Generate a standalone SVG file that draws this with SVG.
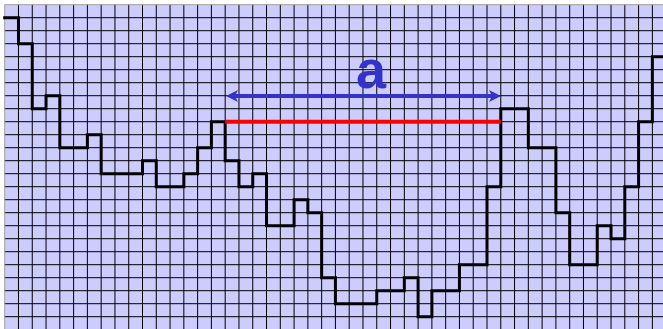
<svg xmlns="http://www.w3.org/2000/svg" width="663" height="329" viewBox="0 0 663 329">
<style>
.bg{fill:#ccccff}
.grid{stroke:#000;stroke-width:1;fill:none}
.border{stroke:#a0a0a0;stroke-width:1;fill:none}
.curve{stroke:#000;stroke-width:3;fill:none;stroke-linejoin:miter;stroke-linecap:square}
.red{stroke:#ff0000;stroke-width:4}
.blue{stroke:#3333cc;stroke-width:4}
.head{fill:#3333cc}
.lbl{font-family:"Liberation Sans",Arial,sans-serif;font-weight:bold;font-size:54px;fill:#3333cc}
</style>
<rect x="0" y="0" width="663" height="329" fill="#ffffff"/>
<rect class="bg" x="4.7" y="4.7" width="660" height="330"/>
<g id="grid">
<path class="grid" d="M18.48 4.7V329M32.26 4.7V329M46.04 4.7V329M59.82 4.7V329M73.6 4.7V329M87.38 4.7V329M101.16 4.7V329M114.94 4.7V329M128.72 4.7V329M142.5 4.7V329M156.28 4.7V329M170.06 4.7V329M183.84 4.7V329M197.62 4.7V329M211.4 4.7V329M225.18 4.7V329M238.96 4.7V329M252.74 4.7V329M266.52 4.7V329M280.3 4.7V329M294.08 4.7V329M307.86 4.7V329M321.64 4.7V329M335.42 4.7V329M349.2 4.7V329M362.98 4.7V329M376.76 4.7V329M390.54 4.7V329M404.32 4.7V329M418.1 4.7V329M431.88 4.7V329M445.66 4.7V329M459.44 4.7V329M473.22 4.7V329M487 4.7V329M500.78 4.7V329M514.56 4.7V329M528.34 4.7V329M542.12 4.7V329M555.9 4.7V329M569.68 4.7V329M583.46 4.7V329M597.24 4.7V329M611.02 4.7V329M624.8 4.7V329M638.58 4.7V329M652.36 4.7V329"/>
<path class="grid" d="M4.7 17.7H663M4.7 30.7H663M4.7 43.7H663M4.7 56.7H663M4.7 69.7H663M4.7 82.7H663M4.7 95.7H663M4.7 108.7H663M4.7 121.7H663M4.7 134.7H663M4.7 147.7H663M4.7 160.7H663M4.7 173.7H663M4.7 186.7H663M4.7 199.7H663M4.7 212.7H663M4.7 225.7H663M4.7 238.7H663M4.7 251.7H663M4.7 264.7H663M4.7 277.7H663M4.7 290.7H663M4.7 303.7H663M4.7 316.7H663"/>
<path class="border" d="M4.7 329V4.7H663"/>
</g>
<g id="staircase">
<path class="curve" d="M4.7 17.7H18.48V43.7H32.26V108.7H46.04V95.7H59.82V147.7H87.38V134.7H101.16V173.7H142.5V160.7H156.28V186.7H183.84V173.7H197.62V147.7H211.4V121.7H225.18V160.7H238.96V186.7H252.74V173.7H266.52V225.7H294.08V199.7H307.86V212.7H321.64V277.7H335.42V303.7H376.76V290.7H404.32V277.7H418.1V316.7H431.88V290.7H459.44V264.7H487V186.7H500.78V108.7H528.34V147.7H555.9V212.7H569.68V264.7H597.24V225.7H611.02V238.7H624.8V186.7H638.58V121.7H652.36V56.7H666"/>
</g>
<g id="width-line">
<line class="red" x1="225.18" y1="121.7" x2="500.78" y2="121.7"/>
</g>
<g id="dimension-a">
<line class="blue" x1="234" y1="96" x2="493" y2="96"/>
<polygon class="head" points="226,96 238,90 235,96 238,102"/>
<polygon class="head" points="501,96 489,90 492,96 489,102"/>
<text class="lbl" x="371" y="88" text-anchor="middle">a</text>
</g>
</svg>
